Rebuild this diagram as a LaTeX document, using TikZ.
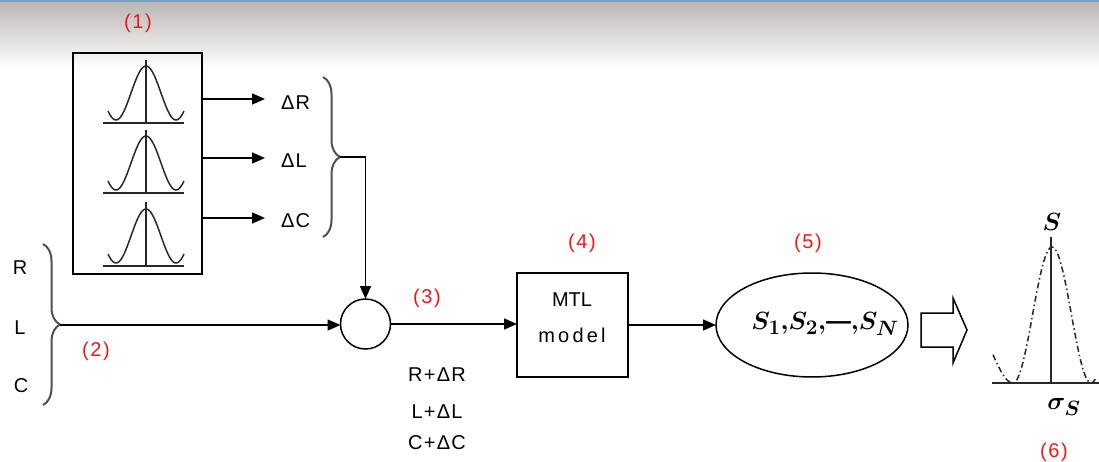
\documentclass[tikz,border=0pt]{standalone}
\usepackage{fontspec}
\setmainfont{Liberation Sans}
\usetikzlibrary{arrows.meta,decorations.pathreplacing,shapes.geometric}
\definecolor{bandgray}{RGB}{184,180,178}
\definecolor{bandblue}{RGB}{125,160,185}
\definecolor{tagred}{RGB}{240,24,24}
\definecolor{bracegray}{RGB}{80,80,80}
\definecolor{curvegray}{RGB}{40,40,40}
\begin{document}
\begin{tikzpicture}[x=1pt,y=-1pt,
  every node/.style={inner sep=0pt, outer sep=0pt},
  txt/.style={font=\fontsize{20}{23}\selectfont\addfontfeature{LetterSpace=6}},
  tag/.style={font=\fontsize{20}{23}\selectfont\addfontfeature{LetterSpace=8}, text=tagred},
  frame/.style={draw, line width=1.5pt},
  link/.style={line width=1.5pt, -{Triangle[length=13pt,width=11pt]}},
  bracket/.style={draw=bracegray, line width=2pt, decorate, decoration={brace, amplitude=17pt}},
  bell/.style={curvegray, line width=1.5pt},
  stat/.style={font=\fontsize{24.88}{28}\selectfont\boldmath},
]
% header band
\shade[top color=bandgray, bottom color=white] (0,0) rectangle (1099,68);
\fill[bandblue] (0,0) rectangle (1099,2);
\useasboundingbox (0,0) rectangle (1099,462);

% (1) random generators
\node[tag] (t1) at (138,23) {(1)};
\node[frame, minimum width=129, minimum height=221] (gen) at (137.5,163.5) {};
\foreach \b/\t in {123/60, 193/130, 266/202}{
  \draw[bell] (103,\b) -- (184,\b);
  \draw[bell] (146,\t) -- (146,\b);
  \draw[bell] plot[domain=-38:38, samples=61, smooth] ({146+\x},{\b-30-27*cos(180*\x/30)});
}
\node[txt, anchor=west] (dR) at (281,103) {ΔR};
\node[txt, anchor=west] (dL) at (281,161) {ΔL};
\node[txt, anchor=west] (dC) at (281,221) {ΔC};
\coordinate (dRin) at (265,99);
\coordinate (dLin) at (265,158);
\coordinate (dCin) at (265,218);
\draw[link] (gen.east |- dRin) -- (dRin);
\draw[link] (gen.east |- dLin) -- (dLin);
\draw[link] (gen.east |- dCin) -- (dCin);
\draw[bracket] (323,77) -- (323,237);
\coordinate (rtip) at (340,157);

% (2) nominal values
\node[txt] (R) at (20,268) {R};
\node[txt] (L) at (20,328) {L};
\node[txt] (C) at (21,386) {C};
\draw[bracket] (43,244) -- (43,405);
\coordinate (ltip) at (60,325);
\node[tag] (t2) at (96,351) {(2)};

% (3) summing junction
\node[draw, circle, line width=1.5pt, minimum size=50] (sum) at (365.5,324) {};
\draw[link] (rtip) -| (sum.north);
\draw[link] (ltip) -- (sum.west |- ltip);
\node[tag] (t3) at (427,298) {(3)};
\node[txt] (rsum) at (437,375) {R+ΔR};
\node[txt] (lsum) at (437,412) {L+ΔL};
\node[txt] (csum) at (437,443) {C+ΔC};

% (4) MTL model
\node[tag] (t4) at (582,243) {(4)};
\node[frame, minimum width=111, minimum height=104] (mtl) at (572.5,325) {};
\node[align=center, font=\fontsize{20}{36}\selectfont] (mtltxt) at (572,318) {MTL\\{\addfontfeature{LetterSpace=16}model}};
\draw[link] (sum.east) -- (mtl.west |- sum.east);

% (5) ensemble of outputs
\node[tag] (t5) at (808,243) {(5)};
\node[draw, ellipse, line width=1.5pt, minimum width=192, minimum height=104] (ens) at (812,325) {};
\node[stat] (enstxt) at (825,324) {$S_1{,}S_2{,}\textbf{---}{,}S_N$};
\draw[link] (mtl.east) -- (ens.west);

% block arrow
\draw[line width=1.5pt, fill=white] (921,313) -- (953,313) -- (953,298) -- (967,330)
  -- (953,363) -- (953,347) -- (921,347) -- cycle;

% (6) output distribution
\draw[bell] (992,383) -- (1099,383);
\draw[bell] (1051,237) -- (1051,383);
\draw[bell, dash pattern=on 6pt off 3pt on 1.5pt off 3pt]
  plot[domain=-59:-39, samples=21, smooth] ({1052+\x},{383-0.4*68*(1+cos(180*\x/39))})
  -- plot[domain=-39:44, samples=70, smooth] ({1052+\x},{383-68*(1+cos(180*\x/39))});
\node[stat] (mean) at (1052,222) {$S$};
\node[stat] (sig) at (1064,407) {$\sigma_S$};
\node[tag] (t6) at (1054,452) {(6)};
\end{tikzpicture}
\end{document}
